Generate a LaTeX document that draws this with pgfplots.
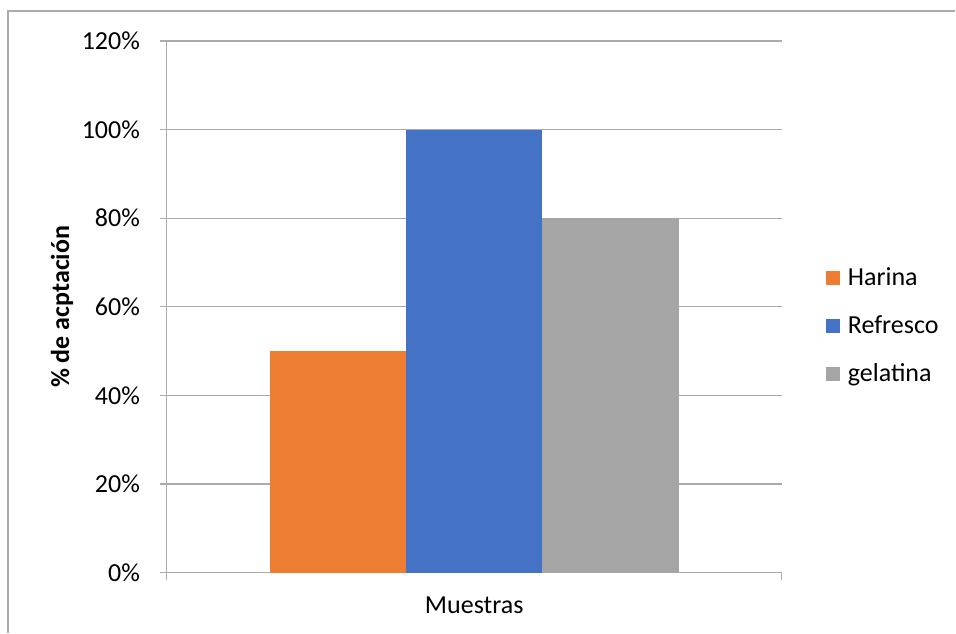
\documentclass[border=0pt]{standalone}
\usepackage{pgfplots}
\pgfplotsset{compat=1.18}
\usepackage{fontspec}
\setmainfont{Carlito}
\definecolor{cOr}{HTML}{ED7D31}
\definecolor{cBl}{HTML}{4472C4}
\definecolor{cGr}{HTML}{A5A5A5}
\definecolor{cGrid}{HTML}{ABABAB}
\begin{document}
\begin{tikzpicture}[x=0.5pt,y=0.5pt]
\path (0,0) rectangle (956,633);
\draw[cGrid, line width=0.6pt] (8,0) -- (8,622) -- (956,622);
\begin{axis}[
  at={(83.5pt,30pt)}, anchor=south west,
  scale only axis, width=307.5pt, height=266pt,
  font=\fontsize{13}{15.6}\selectfont,
  /pgf/number format/assume math mode=true,
  xmin=-1, xmax=1, ymin=0, ymax=120,
  axis lines*=left,
  axis line style={cGrid, line width=0.6pt},
  ymajorgrids, grid style={cGrid, line width=0.6pt},
  tick style={cGrid, line width=0.6pt},
  major tick length=3.5pt, tick align=outside,
  ytick={0,20,...,120},
  yticklabel={\pgfmathprintnumber{\tick}\%},
  yticklabel style={anchor=east, xshift=-6.5pt},
  xtick={-1,1}, xticklabels={,},
  extra x ticks={0}, extra x tick labels={Muestras},
  extra x tick style={major tick length=0pt, grid=none, xticklabel style={yshift=-8.5pt}},
  ylabel={\bfseries\% de acptación},
  ylabel style={at={(axis description cs:-0.1707,0.5)}, anchor=center},
  legend style={at={(axis description cs:1.0618,0.4643)}, anchor=west, draw=none, fill=none,
    font=\fontsize{13}{15.6}\selectfont, row sep=9.5pt,
    nodes={inner xsep=4pt}},
  legend cell align=left,
  legend image code/.code={\fill[#1] (0pt,-3.5pt) rectangle (7pt,3.5pt);},
]
\addplot[ybar, bar width=0.4439, bar shift=0pt, fill=cOr, draw=none] coordinates {(-0.4439,50)};
\addplot[ybar, bar width=0.4439, bar shift=0pt, fill=cBl, draw=none] coordinates {(0,100)};
\addplot[ybar, bar width=0.4439, bar shift=0pt, fill=cGr, draw=none] coordinates {(0.4439,80)};
\legend{Harina,Refresco,gelatina}
\end{axis}
\end{tikzpicture}
\end{document}
